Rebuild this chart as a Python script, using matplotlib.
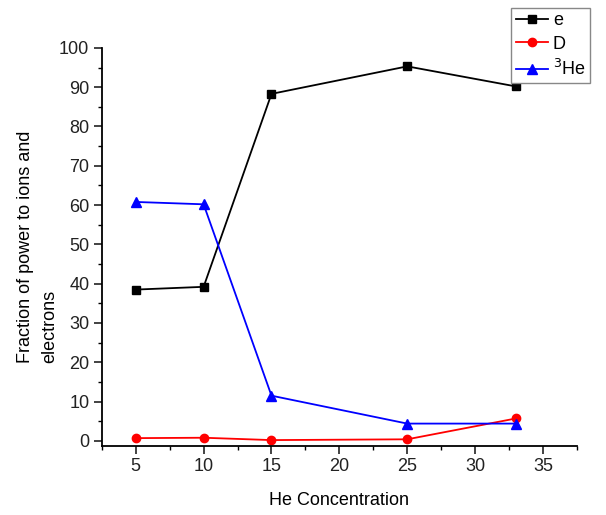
import matplotlib
matplotlib.use("Agg")
import matplotlib.pyplot as plt
from matplotlib.ticker import MultipleLocator

plt.rcParams["font.family"] = ["Liberation Sans", "DejaVu Sans"]

conc = [5, 10, 15, 25, 33]
frac_e = [38.5, 39.2, 88.3, 95.3, 90.2]
frac_d = [0.7, 0.8, 0.2, 0.4, 5.7]
frac_he3 = [60.8, 60.2, 11.5, 4.4, 4.4]

fig = plt.figure(figsize=(6.06, 5.15), dpi=100)
ax = fig.add_axes([0.168, 0.134, 0.784, 0.773])

ax.plot(conc, frac_e, "-s", color="black", label="e", markersize=6, linewidth=1.3)
ax.plot(conc, frac_d, "-o", color="red", label="D", markersize=6, linewidth=1.3)
ax.plot(conc, frac_he3, "-^", color="blue", label=r"$^{3}$He", markersize=7, linewidth=1.3)

ax.set_xlim(2.5, 37.5)
ax.set_ylim(-1.3, 100)
ax.xaxis.set_major_locator(MultipleLocator(5))
ax.xaxis.set_minor_locator(MultipleLocator(2.5))
ax.yaxis.set_major_locator(MultipleLocator(10))
ax.yaxis.set_minor_locator(MultipleLocator(5))
ax.spines["top"].set_visible(False)
ax.spines["right"].set_visible(False)
for s in ["left", "bottom"]:
    ax.spines[s].set_linewidth(1.3)
ax.tick_params(which="major", length=6, width=1.2, labelsize=13, colors="#222222")
ax.tick_params(axis="x", which="major", pad=3)
ax.tick_params(axis="y", which="major", pad=3)
ax.tick_params(which="minor", length=3, width=1.0)

ax.set_xlabel("He Concentration", fontsize=13, va="center")
ax.xaxis.set_label_coords(0.5, -0.137)
ax.set_ylabel("Fraction of power to ions and\nelectrons", fontsize=13,
              multialignment="left", linespacing=1.55)
ax.yaxis.set_label_coords(-0.092, 0.5)

fig.legend(loc="upper right", bbox_to_anchor=(0.974, 0.985), fontsize=13,
           frameon=True, fancybox=False, edgecolor="#888888", framealpha=1,
           handlelength=1.8, borderpad=0.25, labelspacing=0.35, handletextpad=0.25,
           borderaxespad=0)

fig.savefig("out.png", dpi=100)
